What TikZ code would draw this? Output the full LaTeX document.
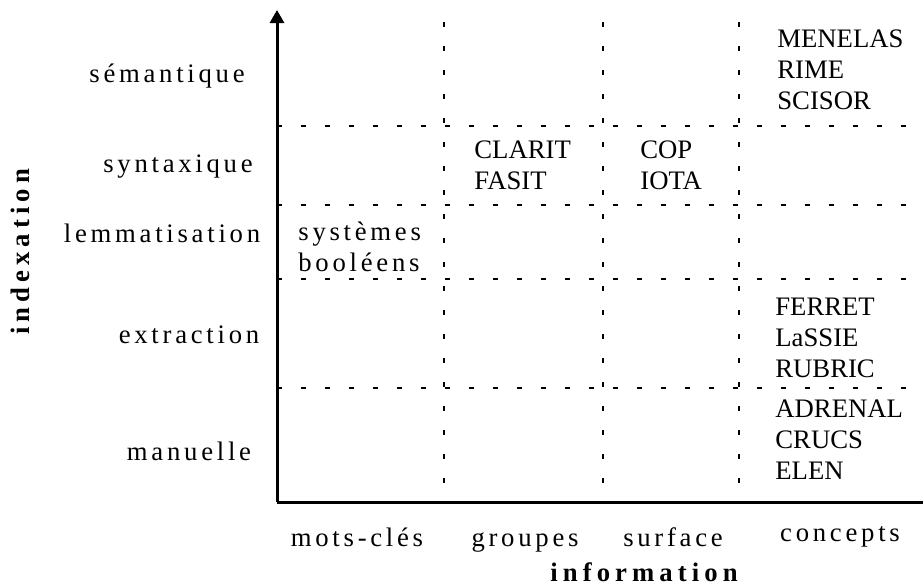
\documentclass[tikz,border=0pt]{standalone}
\usepackage{fontspec}
\setmainfont{Liberation Serif}
\newfontfamily\espace[LetterSpace=14]{Liberation Serif}
\newfontfamily\titre[LetterSpace=19]{Liberation Serif Bold}
\usepackage{tikz}
\usetikzlibrary{
	arrows.meta,
	positioning,
	}

\tikzset{
	axe/.style={line width=1.5pt},
	grille/.style={line width=1.2pt, dash pattern=on 2.5pt off 9.5pt},
	niveau/.style={font=\fontsize{13.35}{15.5}\espace, inner sep=0pt, anchor=base},
	systeme/.style={font=\fontsize{13.35}{15.5}\selectfont, inner sep=0pt, anchor=base west, align=left},
	axetitre/.style={font=\fontsize{13.35}{15.5}\titre, inner sep=0pt, anchor=base},
}

\begin{document}
\begin{tikzpicture}[x=0.5pt, y=-0.5pt]
		\useasboundingbox (0,0) rectangle (923,584);
		% axes
		\coordinate (O) at (277,502);
		\coordinate (haut) at (277,10);
		\coordinate (droite) at (923,502);
		% grille
		\foreach \y in {126,205,279,388}
			\draw[grille] (277,\y) -- (923,\y);
		\foreach \x in {444,603,739}
			\draw[grille] (\x,22) -- (\x,502);
		\draw[axe, -{Triangle[width=7pt, length=6.5pt]}] (O) -- (haut);
		\draw[axe] (O) -- (droite);
		% niveaux d'indexation
		\node[niveau] (sem) at (167,82) {sémantique};
		\node[niveau] (syn) at (178,172) {syntaxique};
		\node[niveau] (lem) at (162,242) {lemmatisation};
		\node[niveau] (ext) at (189,343) {extraction};
		\node[niveau] (man) at (189,460) {manuelle};
		\node[axetitre, rotate=90] (index) at (30,252) {indexation};
		% niveaux d'information (la base est celle de la derniere ligne)
		\node[niveau] (mots) at (357,546) {mots-clés};
		\node[niveau] (grp) at (525,546) {groupes};
		\node[niveau] (surf) at (673,546) {surface};
		\node[niveau] (conc) at (840,541) {concepts};
		\node[axetitre] (info) at (644,581) {information};
		% systemes
		\node[systeme] (bool) at (298,271) {\espace systèmes\\\espace booléens};
		\node[systeme] (clarit) at (474,189) {CLARIT\\FASIT};
		\node[systeme] (cop) at (640,189) {COP\\IOTA};
		\node[systeme] (menelas) at (777,109) {MENELAS\\RIME\\SCISOR};
		\node[systeme] (ferret) at (775,377) {FERRET\\LaSSIE\\RUBRIC};
		\node[systeme] (adrenal) at (775,479) {ADRENAL\\CRUCS\\ELEN};
	\end{tikzpicture}
\end{document}
